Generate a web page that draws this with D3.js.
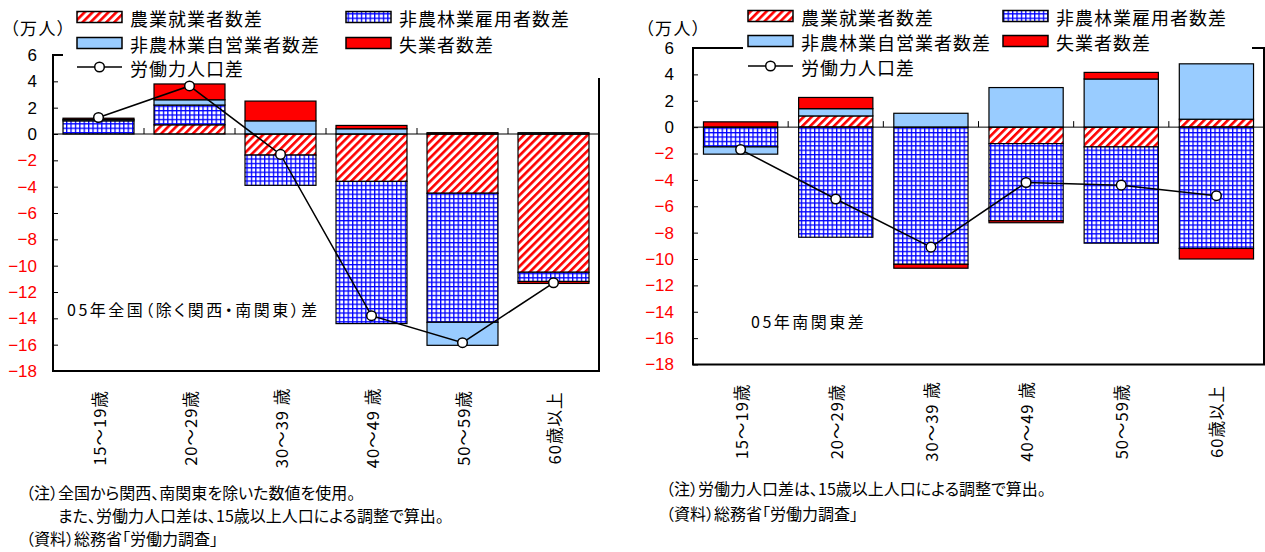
<!DOCTYPE html>
<html><head><meta charset="utf-8">
<script src="https://cdn.jsdelivr.net/npm/d3@7"></script>
<style>
body{margin:0;background:#fff;}
svg text{font-family:"Noto Sans CJK JP",sans-serif;font-feature-settings:"palt";fill:#000;}
.num{font-family:"Liberation Sans",Arial,sans-serif;font-size:17px;font-feature-settings:normal;}
</style></head><body><svg id="c" width="1265" height="552"></svg>
<script>
const categories = ["15～19歳","20～29歳","30～39 歳","40～49 歳","50～59歳","60歳以上"];
const yTicks = [-18,-16,-14,-12,-10,-8,-6,-4,-2,0,2,4,6];
const seriesNames = ["農業就業者数差","非農林業雇用者数差","非農林業自営業者数差","失業者数差","労働力人口差"];

// left panel: 05年全国（除く関西・南関東）差
const leftAgri  = [0, 0.7, -1.6, -3.6, -4.5, -10.5];
const leftEmp   = [1.0, 1.5, -2.3, -10.8, -9.8, -0.7];
const leftSelf  = [0.1, 0.4, 1.0, 0.4, -1.75, 0.1];
const leftUnemp = [0.1, 1.2, 1.5, 0.25, 0.1, -0.15];
const leftLabor = [1.25, 3.65, -1.55, -13.8, -15.85, -11.3];

// right panel: 05年南関東差
const rightAgri  = [0, 0.85, 0, -1.25, -1.5, 0.6];
const rightEmp   = [-1.5, -8.35, -10.4, -5.85, -7.3, -9.2];
const rightSelf  = [-0.55, 0.55, 1.05, 3.0, 3.65, 4.2];
const rightUnemp = [0.4, 0.85, -0.3, -0.15, 0.5, -0.8];
const rightLabor = [-1.7, -5.45, -9.1, -4.2, -4.4, -5.2];

const svg = d3.select("#c");
const defs = svg.append("defs");
const hatch = defs.append("pattern").attr("id","hatch").attr("patternUnits","userSpaceOnUse")
  .attr("width",5.6).attr("height",5.6).attr("patternTransform","rotate(45)");
hatch.append("rect").attr("width",5.6).attr("height",5.6).attr("fill","#fff");
hatch.append("rect").attr("width",2.6).attr("height",5.6).attr("fill","#ff0000");
const grid = defs.append("pattern").attr("id","grid").attr("patternUnits","userSpaceOnUse")
  .attr("width",4.4).attr("height",4.4);
grid.append("rect").attr("width",4.4).attr("height",4.4).attr("fill","#fff");
grid.append("rect").attr("width",4.4).attr("height",1.3).attr("fill","#0000ff");
grid.append("rect").attr("width",1.3).attr("height",4.4).attr("fill","#0000ff");

const keys = ["agri","emp","self","unemp"];
const fills = {agri:"url(#hatch)", emp:"url(#grid)", self:"#99ccff", unemp:"#ff0000"};

function drawPanel(p){
  const g = svg.append("g");
  const x = d3.scaleBand().domain(categories).range([p.left,p.right]).paddingInner(0.22).paddingOuter(0.11);
  const y = d3.scaleLinear().domain([-18,6]).range([p.bottom,p.top]);
  const step = x.step();

  // frame
  g.append("rect").attr("x",p.left).attr("y",p.top).attr("width",p.right-p.left).attr("height",p.bottom-p.top)
    .attr("fill","none").attr("stroke","#000").attr("stroke-width",2);

  // y axis ticks (inside) and labels
  const ya = d3.axisLeft(y).tickValues(yTicks).tickSize(-5).tickPadding(p.labelOff)
    .tickFormat(d => d < 0 ? "−" + Math.abs(d) : String(d));
  const yg = g.append("g").attr("transform",`translate(${p.left},0)`).call(ya);
  yg.select(".domain").remove();
  yg.selectAll(".tick line").attr("stroke","#000").attr("stroke-width",1);
  yg.selectAll(".tick text").attr("class","num").attr("font-size",null).attr("font-family",null)
    .style("fill", d => d < 0 ? "#ff0000" : "#000");

  // bars
  const rows = categories.map((c,i)=>({cat:c, agri:p.agri[i], emp:p.emp[i], self:p.self[i], unemp:p.unemp[i]}));
  const stack = d3.stack().keys(keys).offset(d3.stackOffsetDiverging)(rows);
  stack.forEach(s=>{
    g.append("g").selectAll("rect").data(s.filter(d=>d[1]!==d[0])).join("rect")
      .attr("x", d=>x(d.data.cat))
      .attr("width", x.bandwidth())
      .attr("y", d=>y(Math.max(d[0],d[1])))
      .attr("height", d=>Math.abs(y(d[0])-y(d[1])))
      .attr("fill", fills[s.key])
      .attr("stroke","#000").attr("stroke-width",1.2);
  });

  // zero line and category separators
  g.append("line").attr("x1",p.left).attr("x2",p.right).attr("y1",y(0)).attr("y2",y(0))
    .attr("stroke","#000").attr("stroke-width",1);
  g.append("g").selectAll("line").data(d3.range(1,categories.length)).join("line")
    .attr("x1",i=>p.left+i*step).attr("x2",i=>p.left+i*step)
    .attr("y1",y(0)).attr("y2",y(0)-6).attr("stroke","#000").attr("stroke-width",1);

  // labor force line
  const pts = categories.map((c,i)=>[x(c)+x.bandwidth()/2, y(p.labor[i])]);
  g.append("path").attr("d", d3.line()(pts)).attr("fill","none").attr("stroke","#000").attr("stroke-width",1.5);
  g.append("g").selectAll("circle").data(pts).join("circle")
    .attr("cx",d=>d[0]).attr("cy",d=>d[1]).attr("r",4.8)
    .attr("fill","#fff").attr("stroke","#000").attr("stroke-width",1.5);

  // category labels (rotated)
  g.append("g").selectAll("text").data(categories).join("text")
    .attr("transform", c=>`translate(${x(c)+x.bandwidth()/2},${p.bottom+57}) rotate(-90)`)
    .attr("text-anchor","middle").attr("dominant-baseline","central")
    .attr("font-size",16.5).attr("letter-spacing",1).style("font-feature-settings","normal")
    .text(c=>c);

  // legend background
  g.append("rect").attr("x",p.legRect[0]).attr("y",0).attr("width",p.legRect[1]-p.legRect[0]).attr("height",p.legRect[2]).attr("fill","#fff");
  const legItems = [
    {name:seriesNames[0], fill:fills.agri, col:0, row:0},
    {name:seriesNames[1], fill:fills.emp, col:1, row:0},
    {name:seriesNames[2], fill:fills.self, col:0, row:1},
    {name:seriesNames[3], fill:fills.unemp, col:1, row:1},
    {name:seriesNames[4], line:true, col:0, row:2}
  ];
  legItems.forEach(it=>{
    const sx = p.legCols[it.col], cy = p.legRows[it.row];
    if(it.line){
      g.append("line").attr("x1",sx).attr("x2",sx+45).attr("y1",cy).attr("y2",cy).attr("stroke","#000").attr("stroke-width",1.5);
      g.append("circle").attr("cx",sx+22.5).attr("cy",cy).attr("r",4.8).attr("fill","#fff").attr("stroke","#000").attr("stroke-width",1.5);
    } else {
      g.append("rect").attr("x",sx).attr("y",cy-5.5).attr("width",45).attr("height",11)
        .attr("fill",it.fill).attr("stroke","#000").attr("stroke-width",1.5);
    }
    g.append("text").attr("x",sx+53).attr("y",cy+1).attr("dominant-baseline","central")
      .attr("font-size",18).attr("letter-spacing",1).style("font-feature-settings","normal").text(it.name);
  });

  // unit
  g.append("text").attr("x",p.unitX).attr("y",27).attr("dominant-baseline","central")
    .attr("font-size",17).attr("letter-spacing",1.5).text("（万人）");

  // panel title annotation
  g.append("text").attr("x",p.annX).attr("y",p.annY).attr("dominant-baseline","central")
    .attr("font-size",16).attr("letter-spacing",2.5).text(p.ann);

  // notes
  p.notes.forEach(n=>{
    g.append("text").attr("x",n[0]).attr("y",n[1]).attr("dominant-baseline","central")
      .attr("font-size",16).text(n[2]);
  });
}

drawPanel({
  left:53, right:599, top:55, bottom:371, labelOff:16,
  agri:leftAgri, emp:leftEmp, self:leftSelf, unemp:leftUnemp, labor:leftLabor,
  legRect:[63,603,78], legCols:[77,346], legRows:[17,43,67],
  unitX:10, ann:"05年全国（除く関西・南関東）差", annX:67, annY:309,
  notes:[[26,492,"（注）全国から関西、南関東を除いた数値を使用。"],[58,515,"また、労働力人口差は、15歳以上人口による調整で算出。"],[26,538,"（資料）総務省「労働力調査」"]]
});
drawPanel({
  left:693, right:1264, top:48, bottom:364.5, labelOff:19,
  agri:rightAgri, emp:rightEmp, self:rightSelf, unemp:rightUnemp, labor:rightLabor,
  legRect:[743,1252,56], legCols:[748,1003], legRows:[16,41,66],
  unitX:645, ann:"05年南関東差", annX:751, annY:321,
  notes:[[666,488,"（注）労働力人口差は、15歳以上人口による調整で算出。"],[666,513,"（資料）総務省「労働力調査」"]]
});
</script></body></html>
